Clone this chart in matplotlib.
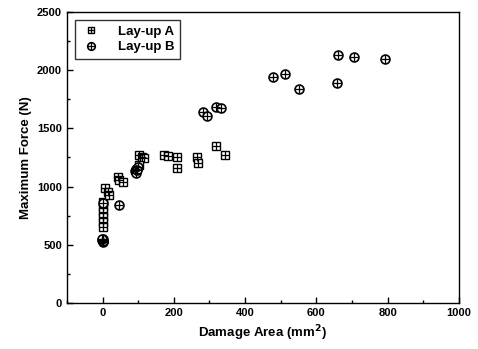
import numpy as np
import matplotlib
matplotlib.use('Agg')
import matplotlib.pyplot as plt
from matplotlib.legend_handler import HandlerTuple
from matplotlib.ticker import MultipleLocator

plt.rcParams['font.family'] = ['Liberation Sans', 'DejaVu Sans']
plt.rcParams['font.weight'] = 'bold'

# Lay-up A
area_a = [0, 0, 0, 0, 0, 0, 8, 14, 18, 42, 45, 56, 101, 112, 115,
          101, 172, 185, 208, 208, 266, 269, 317, 345]
force_a = [868, 825, 782, 739, 696, 653, 990, 954, 930, 1083, 1057, 1040, 1271, 1254, 1246,
           1186, 1268, 1262, 1254, 1160, 1250, 1205, 1349, 1271]

# Lay-up B
area_b = [0, 0, 2, -2, 1, -1, 0, 45, 90, 95, 100, 93, 97, 283, 294, 318, 333,
          477, 511, 550, 659, 662, 707, 794]
force_b = [520, 535, 550, 540, 528, 545, 860, 842, 1130, 1150, 1165, 1120, 1140, 1638, 1608, 1685, 1672,
           1942, 1968, 1838, 1890, 2131, 2113, 2096]

fig = plt.figure(figsize=(4.78, 3.49), dpi=100)
ax = fig.add_axes([0.140, 0.132, 0.820, 0.834])

ms = 5.8
a1, = ax.plot(area_a, force_a, ls='none', marker='s', ms=ms, mfc='white', mec='black', mew=1.0)
a2, = ax.plot(area_a, force_a, ls='none', marker='+', ms=ms, mec='black', mew=0.9)
b1, = ax.plot(area_b, force_b, ls='none', marker='o', ms=ms + 0.6, mfc='white', mec='black', mew=1.2)
b2, = ax.plot(area_b, force_b, ls='none', marker='+', ms=ms + 0.6, mec='black', mew=0.9)

ax.set_xlim(-100, 1000)
ax.set_ylim(0, 2500)
ax.xaxis.set_major_locator(MultipleLocator(200))
ax.xaxis.set_minor_locator(MultipleLocator(100))
ax.yaxis.set_major_locator(MultipleLocator(500))
ax.yaxis.set_minor_locator(MultipleLocator(250))
ax.tick_params(which='both', direction='in', top=False, right=False, labelsize=8, width=1.0)
ax.tick_params(which='major', length=4)
ax.tick_params(which='minor', length=2.5)
for s in ax.spines.values():
    s.set_linewidth(1.0)

ax.set_xlabel('Damage Area (mm$^\\mathbf{2}$)', fontsize=9.5, fontweight='bold')
ax.set_ylabel('Maximum Force (N)', fontsize=9.5, fontweight='bold')

leg = ax.legend([(a1, a2), (b1, b2)], ['Lay-up A', 'Lay-up B'],
                handler_map={tuple: HandlerTuple(ndivide=1)}, numpoints=1,
                loc='upper left', fontsize=9.5, frameon=True, fancybox=False,
                edgecolor='black', handlelength=1.6, handletextpad=1.2, markerscale=0.85,
                borderpad=0.45, labelspacing=0.25, borderaxespad=0.6)
leg.get_frame().set_linewidth(1.0)

fig.savefig('out.png', dpi=100)
